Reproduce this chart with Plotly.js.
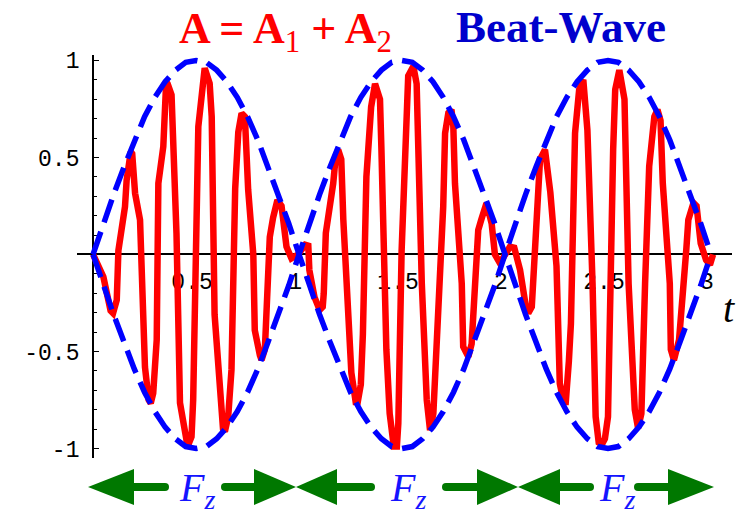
<!DOCTYPE html>
<html>
<head>
<meta charset="utf-8">
<script src="https://cdn.plot.ly/plotly-3.0.1.min.js"></script>
<style>html,body{margin:0;padding:0;background:#fff;}#chart{width:744px;height:517px;}</style>
</head>
<body>
<div id="chart"></div>
<script>
// ---- data ----
const redT = [
  0, 0.05, 0.085, 0.097, 0.115, 0.123, 0.155, 0.163, 0.183, 0.19, 0.204, 0.228, 0.252, 0.27, 0.28, 0.292, 0.309, 0.317, 0.341, 0.355, 0.362, 0.381, 0.405, 0.422, 0.45, 0.459, 0.478, 0.486, 0.511, 0.53, 0.542, 0.566, 0.576, 0.59, 0.615, 0.631, 0.64, 0.656, 0.672, 0.69, 0.705, 0.721, 0.737, 0.753, 0.778, 0.785, 0.81, 0.818, 0.834, 0.858, 0.874, 0.895, 0.915, 0.939, 0.963, 0.995,
  1.03, 1.045, 1.05, 1.075, 1.10, 1.115, 1.12, 1.13, 1.166, 1.175, 1.19, 1.205, 1.215, 1.254, 1.275, 1.285, 1.30, 1.31, 1.327, 1.343, 1.35, 1.369, 1.393, 1.40, 1.424, 1.44, 1.46, 1.475, 1.482, 1.498, 1.522, 1.53, 1.555, 1.571, 1.575, 1.596, 1.62, 1.636, 1.652, 1.67, 1.70, 1.709, 1.725, 1.74, 1.749, 1.757, 1.79, 1.797, 1.822, 1.838, 1.87, 1.885, 1.91, 1.935, 1.951, 1.975, 2.016,
  2.024, 2.045, 2.073, 2.10, 2.113, 2.13, 2.137, 2.17, 2.194, 2.205, 2.22, 2.25, 2.266, 2.285, 2.295, 2.31, 2.32, 2.34, 2.36, 2.38, 2.40, 2.425, 2.44, 2.455, 2.47, 2.485, 2.50, 2.525, 2.535, 2.555, 2.58, 2.60, 2.63, 2.646, 2.662, 2.68, 2.70, 2.725, 2.74, 2.755, 2.766, 2.80, 2.805, 2.82, 2.845, 2.88, 2.89, 2.915, 2.93, 2.95, 2.976, 2.995, 3.01
];
const redA = [
  0, -0.115, -0.29, -0.303, -0.235, 0.02, 0.246, 0.384, 0.53, 0.52, 0.315, 0.178, -0.58, -0.75, -0.767, -0.715, -0.44, 0.367, 0.556, 0.89, 0.88, 0.822, 0.109, -0.765, -0.96, -0.99, -0.94, -0.75, 0.659, 0.9, 0.96, 0.882, 0.71, -0.31, -0.69, -0.9, -0.913, -0.836, -0.595, 0.34, 0.63, 0.728, 0.71, 0.333, 0.0, -0.39, -0.52, -0.544, -0.49, 0.09, 0.19, 0.28, 0.25, 0.04, -0.02, 0.0,
  0.05, 0.045, -0.08, -0.22, -0.286, -0.27, -0.2, 0.11, 0.367, 0.47, 0.54, 0.49, 0.178, -0.61, -0.76, -0.76, -0.67, -0.41, 0.4, 0.625, 0.76, 0.88, 0.80, 0.54, -0.49, -0.82, -0.99, -0.99, -0.87, 0.02, 0.815, 0.92, 0.97, 0.88, 0.71, -0.15, -0.75, -0.905, -0.82, -0.45, 0.246, 0.625, 0.73, 0.746, 0.66, 0.367, -0.15, -0.475, -0.527, -0.46, 0.126, 0.18, 0.264, 0.16, 0.0, -0.045, 0.023,
  0.04, 0.035, -0.08, -0.26, -0.303, -0.27, -0.115, 0.49, 0.54, 0.45, 0.32, -0.06, -0.665, -0.76, -0.76, -0.55, -0.355, 0.625, 0.85, 0.90, 0.64, -0.15, -0.836, -0.97, -0.98, -0.95, -0.836, 0.54, 0.85, 0.95, 0.80, -0.15, -0.80, -0.895, -0.82, -0.15, 0.455, 0.71, 0.746, 0.69, 0.367, -0.15, -0.49, -0.545, -0.44, 0.023, 0.178, 0.266, 0.25, 0.058, -0.028, -0.054, 0.0
];
const envT = [
  0, 0.05, 0.1, 0.15, 0.2, 0.25, 0.3, 0.35, 0.4, 0.45, 0.5, 0.55, 0.6, 0.65, 0.7, 0.75, 0.8, 0.85, 0.9, 0.95,
  1, 1.05, 1.1, 1.15, 1.2, 1.25, 1.3, 1.35, 1.4, 1.45, 1.5, 1.55, 1.6, 1.65, 1.7, 1.75, 1.8, 1.85, 1.9, 1.95,
  2, 2.05, 2.1, 2.15, 2.2, 2.25, 2.3, 2.35, 2.4, 2.45, 2.5, 2.55, 2.6, 2.65, 2.7, 2.75, 2.8, 2.85, 2.9, 2.95, 3
];
const envUpper = [
  0, 0.16, 0.31, 0.45, 0.59, 0.71, 0.81, 0.89, 0.95, 0.99, 1.0, 0.99, 0.95, 0.89, 0.81, 0.71, 0.59, 0.45, 0.31, 0.16,
  0, 0.16, 0.31, 0.45, 0.59, 0.71, 0.81, 0.89, 0.95, 0.99, 1.0, 0.99, 0.95, 0.89, 0.81, 0.71, 0.59, 0.45, 0.31, 0.16,
  0, 0.16, 0.31, 0.45, 0.59, 0.71, 0.81, 0.89, 0.95, 0.99, 1.0, 0.99, 0.95, 0.89, 0.81, 0.71, 0.59, 0.45, 0.31, 0.16, 0
];
const envLower = [
  0, -0.16, -0.31, -0.45, -0.59, -0.71, -0.81, -0.89, -0.95, -0.99, -1.0, -0.99, -0.95, -0.89, -0.81, -0.71, -0.59, -0.45, -0.31, -0.16,
  0, -0.16, -0.31, -0.45, -0.59, -0.71, -0.81, -0.89, -0.95, -0.99, -1.0, -0.99, -0.95, -0.89, -0.81, -0.71, -0.59, -0.45, -0.31, -0.16,
  0, -0.16, -0.31, -0.45, -0.59, -0.71, -0.81, -0.89, -0.95, -0.99, -1.0, -0.99, -0.95, -0.89, -0.81, -0.71, -0.59, -0.45, -0.31, -0.16, 0
];
const xTickVals = [0.5, 1, 1.5, 2, 2.5, 3];
const xTickText = ['0.5', '1', '1.5', '2', '2.5', '3'];
const yTickVals = [-1, -0.5, 0.5, 1];
const yTickText = ['-1', '-0.5', '0.5', '1'];

// ---- layout geometry ----
const W = 744, H = 517;
const M = {l: 77, r: 12, t: 55, b: 59};
const xRange = [-0.078, 3.102];
const yRange = [-1.049, 1.028];
const plotW = W - M.l - M.r, plotH = H - M.t - M.b;
const pX = px => (px - M.l) / plotW;          // pixel -> paper
const pY = py => (H - M.b - py) / plotH;
const xFree = (0 - yRange[0]) / (yRange[1] - yRange[0]);
const yFree = (0 - xRange[0]) / (xRange[1] - xRange[0]);

// ---- force arrows (decoration) ----
const green = 'rgb(0,120,0)';
const arrowY = 487, headHalf = 18, shaftHalf = 4;
const headsLeft = [[88, 134], [296, 337], [518, 560]];   // [tip, base]
const headsRight = [[296, 254], [518, 477], [714, 668]]; // [tip, base]
const shafts = [[130, 165], [225, 258], [333, 371], [446, 481], [556, 590], [638, 672]];
const capEnds = [165, 225, 371, 446, 590, 638];
const fzCenters = [197, 408, 617];

const shapes = [];
function tri(tip, base) {
  return {type: 'path', xref: 'paper', yref: 'paper', line: {width: 0}, fillcolor: green,
    path: `M ${pX(tip)},${pY(arrowY)} L ${pX(base)},${pY(arrowY - headHalf)} L ${pX(base)},${pY(arrowY + headHalf)} Z`};
}
headsLeft.forEach(h => shapes.push(tri(h[0], h[1])));
headsRight.forEach(h => shapes.push(tri(h[0], h[1])));
shafts.forEach(s => shapes.push({type: 'rect', xref: 'paper', yref: 'paper', line: {width: 0}, fillcolor: green,
  x0: pX(s[0]), x1: pX(s[1]), y0: pY(arrowY - shaftHalf), y1: pY(arrowY + shaftHalf)}));
capEnds.forEach(c => shapes.push({type: 'circle', xref: 'paper', yref: 'paper', line: {width: 0}, fillcolor: green,
  x0: pX(c - shaftHalf), x1: pX(c + shaftHalf), y0: pY(arrowY - shaftHalf), y1: pY(arrowY + shaftHalf)}));

const annotations = [
  {xref: 'paper', yref: 'paper', x: pX(285), y: pY(31), xanchor: 'center', yanchor: 'middle', showarrow: false,
   text: '<b>A = A</b><sub>1</sub><b> + A</b><sub>2</sub>',
   font: {family: 'Liberation Serif, Times New Roman, serif', size: 44, color: '#ff0000'}},
  {xref: 'paper', yref: 'paper', x: pX(561), y: pY(27), xanchor: 'center', yanchor: 'middle', showarrow: false,
   text: '<b>Beat-Wave</b>',
   font: {family: 'Liberation Serif, Times New Roman, serif', size: 45, color: '#0000cc'}},
  {xref: 'paper', yref: 'paper', x: pX(729), y: pY(308), xanchor: 'center', yanchor: 'middle', showarrow: false,
   text: '<i>t</i>',
   font: {family: 'Liberation Serif, Times New Roman, serif', size: 40, color: '#000'}}
];
fzCenters.forEach(c => annotations.push({xref: 'paper', yref: 'paper', x: pX(c), y: pY(490), xanchor: 'center', yanchor: 'middle',
  showarrow: false, text: '<i>F</i><sub><i>z</i></sub>',
  font: {family: 'Liberation Serif, Times New Roman, serif', size: 40, color: '#1414ff'}}));

const traces = [
  {x: redT, y: redA, type: 'scatter', mode: 'lines', name: 'A = A1 + A2',
   line: {color: '#ff0000', width: 6.5}, showlegend: false, hoverinfo: 'skip'},
  {x: envT, y: envUpper, type: 'scatter', mode: 'lines', name: 'Beat envelope',
   line: {color: '#0000ff', width: 5.5, dash: '24px,10px'}, showlegend: false, hoverinfo: 'skip'},
  {x: envT, y: envLower, type: 'scatter', mode: 'lines', name: 'Beat envelope (lower)',
   line: {color: '#0000ff', width: 5.5, dash: '24px,10px'}, showlegend: false, hoverinfo: 'skip'}
];

const tickFont = {family: 'Liberation Mono, DejaVu Sans Mono, monospace', size: 23, color: '#000'};
const layout = {
  width: W, height: H, margin: M,
  paper_bgcolor: '#fff', plot_bgcolor: '#fff',
  showlegend: false,
  xaxis: {range: xRange, anchor: 'free', position: xFree, showline: true, linecolor: '#000', linewidth: 2,
    showgrid: false, zeroline: false, ticks: '', tickmode: 'array', tickvals: xTickVals, ticktext: xTickText,
    tickfont: tickFont, layer: 'below traces', ticklabelstandoff: 6, ticklabelshift: -4},
  yaxis: {range: yRange, anchor: 'free', position: yFree, showline: true, linecolor: '#000', linewidth: 2,
    showgrid: false, zeroline: false, ticks: 'inside', ticklen: 5, tickwidth: 1.5, tickcolor: '#000',
    tickmode: 'array', tickvals: yTickVals, ticktext: yTickText, tickfont: tickFont, ticklabelstandoff: 8,
    minor: {tickmode: 'linear', tick0: 0, dtick: 0.1, ticks: 'inside', ticklen: 3, tickwidth: 1, tickcolor: '#000', showgrid: false},
    layer: 'below traces'},
  shapes: shapes,
  annotations: annotations
};

Plotly.newPlot('chart', traces, layout, {staticPlot: true, displayModeBar: false});
</script>
</body>
</html>
